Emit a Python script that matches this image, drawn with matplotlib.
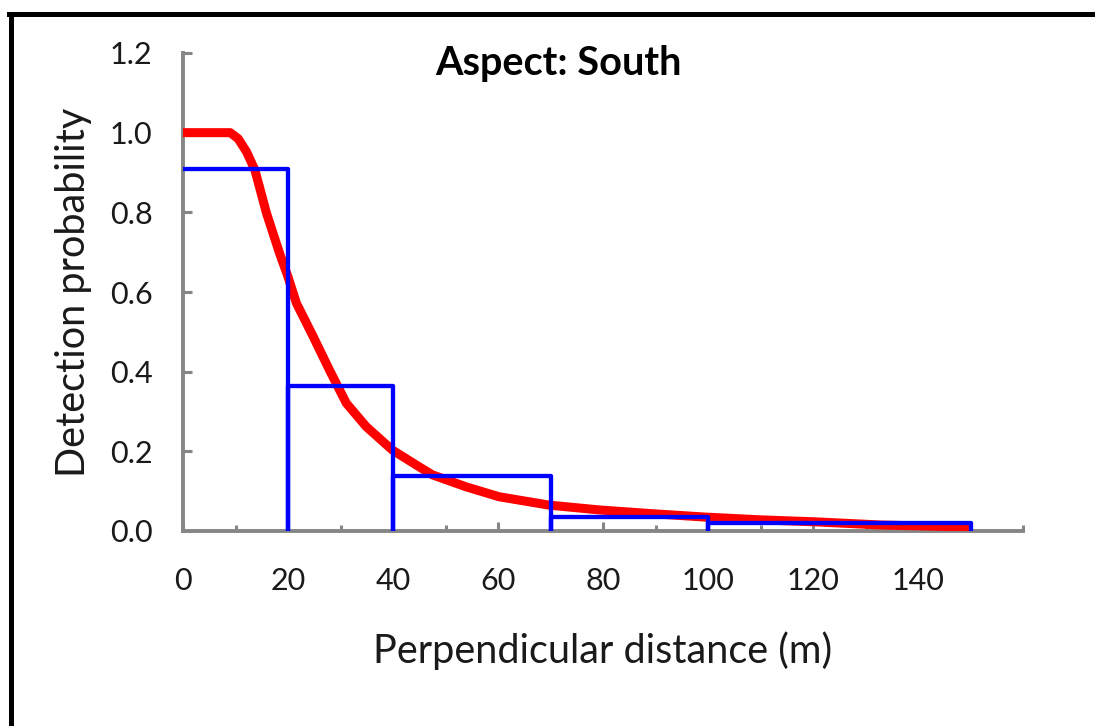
import numpy as np
import matplotlib
matplotlib.use("Agg")
import matplotlib.pyplot as plt
from matplotlib.lines import Line2D
from matplotlib.ticker import MultipleLocator

plt.rcParams['font.family'] = ['Lato', 'DejaVu Sans']

# detection function (red curve)
dist = [0, 5, 9, 10.5, 12.1, 13.7, 15.9, 18.4, 20.0, 21.6, 24.8, 27.9, 31.1, 34.9,
        39.9, 45.0, 47.5, 53.9, 60.2, 69.7, 79.2, 88.7, 99.4, 110, 120.4, 133, 150]
prob = [1.0, 1.0, 1.0, 0.985, 0.952, 0.906, 0.798, 0.697, 0.638, 0.572, 0.488, 0.404, 0.321, 0.262,
        0.203, 0.161, 0.141, 0.111, 0.086, 0.065, 0.053, 0.044, 0.035, 0.028, 0.023, 0.015, 0.010]

# histogram of scaled detections (blue outline)
bin_edges = [0, 20, 40, 70, 100, 150]
bin_heights = [0.91, 0.365, 0.139, 0.034, 0.021]

x_ticks = [0, 20, 40, 60, 80, 100, 120, 140]
y_ticks = [0.0, 0.2, 0.4, 0.6, 0.8, 1.0, 1.2]

fig = plt.figure(figsize=(10.95, 7.26), dpi=100)
ax = fig.add_axes([183 / 1095, 1 - 531 / 726, (1023 - 183) / 1095, (531 - 53) / 726])

ax.plot(dist, prob, color='#ff0000', lw=6.5, solid_capstyle='butt',
        solid_joinstyle='round', zorder=2)

# step outline: top of each bin, then down to zero at its right edge
sx, sy = [], []
for i, h in enumerate(bin_heights):
    sx += [bin_edges[i], bin_edges[i + 1], bin_edges[i + 1]]
    sy += [h, h, 0]
ax.plot(sx, sy, color='#0000ff', lw=3.1, solid_joinstyle='round', solid_capstyle='round', zorder=3)

ax.set_xlim(0, 160)
ax.set_ylim(0, 1.2)
ax.set_xticks(x_ticks)
ax.set_xticklabels([str(v) for v in x_ticks])
ax.xaxis.set_minor_locator(MultipleLocator(10))
ax.set_yticks(y_ticks)
ax.set_yticklabels(['%.1f' % v for v in y_ticks])

grey = '#868686'
for s in ['top', 'right']:
    ax.spines[s].set_visible(False)
for s in ['left', 'bottom']:
    ax.spines[s].set_color(grey)
    ax.spines[s].set_linewidth(2.8)
    ax.spines[s].set_zorder(1)

ax.tick_params(which='major', direction='in', length=6.5, width=2.2, color=grey,
               labelsize=22, labelcolor='#1a1a1a')
ax.tick_params(which='minor', direction='in', length=4.5, width=2.2, color=grey)
ax.tick_params(axis='x', pad=26)
ax.tick_params(axis='y', pad=22)

ax.set_xlabel('Perpendicular distance (m)', fontsize=28.5, labelpad=26, color='#1a1a1a')
ax.set_ylabel('Detection probability', fontsize=28.5, labelpad=13, color='#1a1a1a')

fig.text(558 / 1095, 1 - 64 / 726, 'Aspect: South', fontsize=28.5, fontweight='bold',
         ha='center', va='center')

# black frame at top and left
fig.add_artist(Line2D([11 / 1095, 11 / 1095], [0, 1 - 14 / 726], transform=fig.transFigure,
                      color='black', lw=3.6))
fig.add_artist(Line2D([9 / 1095, 1], [1 - 14 / 726, 1 - 14 / 726], transform=fig.transFigure,
                      color='black', lw=3.6))

fig.savefig('out.png', dpi=100)
